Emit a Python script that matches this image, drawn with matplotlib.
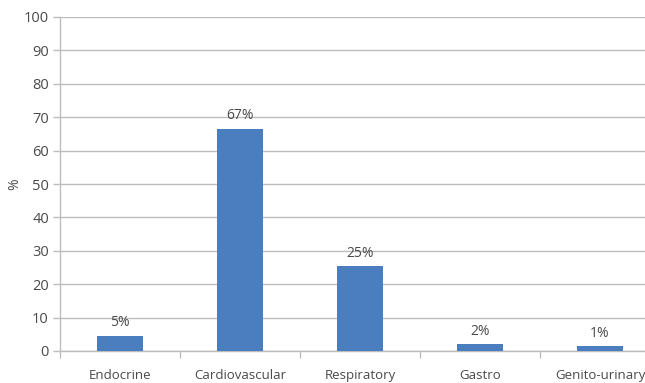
import matplotlib
matplotlib.use("Agg")
import matplotlib.pyplot as plt

# share of admissions by body system
categories = ["Endocrine", "Cardiovascular", "Respiratory", "Gastro", "Genito-urinary"]
values = [4.6, 66.6, 25.3, 2.0, 1.4]
y_ticks = [0, 10, 20, 30, 40, 50, 60, 70, 80, 90, 100]

BAR_COLOR = "#4a7ebf"
TEXT_COLOR = "#4a4a4a"
AXIS_COLOR = "#bdbdbd"

plt.rcParams["font.family"] = ["Open Sans", "DejaVu Sans"]

fig = plt.figure(figsize=(6.45, 3.83), dpi=100)
W, H = 645, 383
ax = fig.add_axes([60 / W, 1 - 351 / H, 600 / W, (351 - 17) / H])

x = list(range(len(categories)))
ax.bar(x, values, width=0.39, color=BAR_COLOR, zorder=3)
for xi, v in zip(x, values):
    ax.annotate(f"{v:.0f}%", (xi, v), xytext=(0, 4), textcoords="offset points",
                ha="center", va="bottom", fontsize=10, color=TEXT_COLOR, zorder=4)

ax.set_xlim(-0.5, len(categories) - 0.5)
ax.set_ylim(0, 100)
ax.set_yticks(y_ticks)
ax.yaxis.grid(True, color=AXIS_COLOR, linewidth=1.0, zorder=0)
ax.set_axisbelow(True)

# category labels sit between the tick marks
ax.set_xticks(x)
ax.set_xticklabels(categories)
ax.set_xticks([i + 0.5 for i in range(-1, len(categories))], minor=True)
ax.tick_params(axis="x", which="major", length=0, pad=13, labelsize=9.5, labelcolor=TEXT_COLOR)
ax.tick_params(axis="x", which="minor", length=5, color=AXIS_COLOR, width=1)
ax.tick_params(axis="y", length=5, color=AXIS_COLOR, width=1, pad=3,
               labelsize=10.5, labelcolor=TEXT_COLOR)

for side in ["top", "right"]:
    ax.spines[side].set_visible(False)
for side in ["left", "bottom"]:
    ax.spines[side].set_color(AXIS_COLOR)
    ax.spines[side].set_linewidth(1.0)

fig.text(15 / W, 1 - 184 / H, "%", rotation=90, ha="center", va="center",
         fontsize=10, color=TEXT_COLOR)

fig.savefig("out.png", dpi=100, facecolor="white")
